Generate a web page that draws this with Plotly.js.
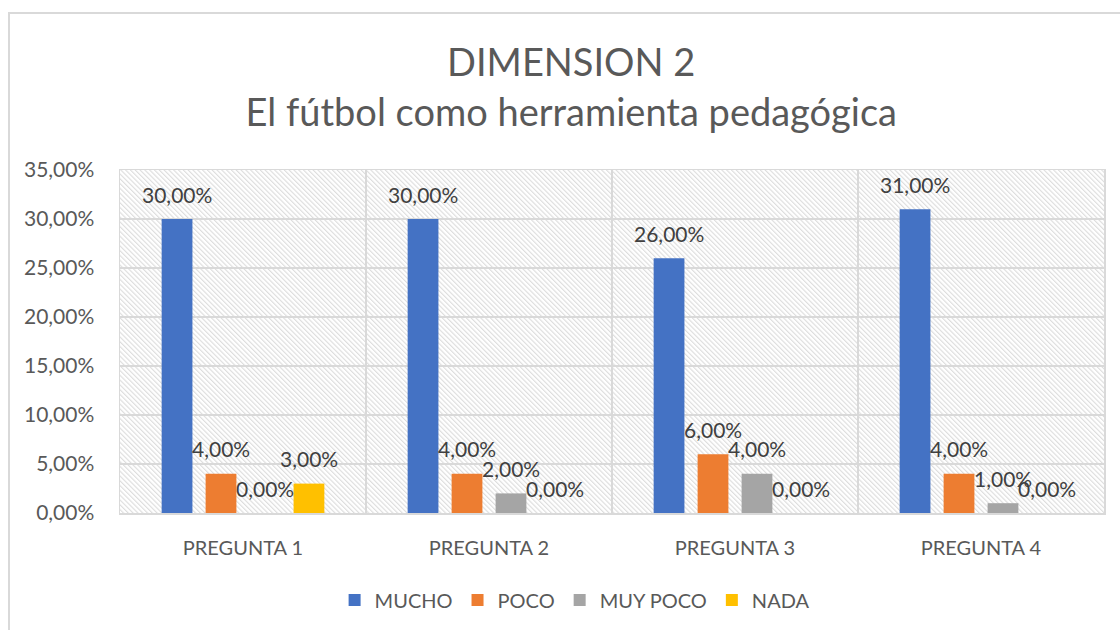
<!DOCTYPE html>
<html>
<head>
<meta charset="utf-8">
<script src="https://cdn.plot.ly/plotly-3.0.1.min.js"></script>
<style>
html,body{margin:0;padding:0;background:#fff;overflow:hidden;}
#wrap{position:relative;width:1120px;height:630px;}
#chart{position:absolute;left:0;top:0;width:1120px;height:630px;}
#frame{position:absolute;left:8px;top:12px;width:1200px;height:700px;border:2px solid #d9d9d9;pointer-events:none;}
</style>
</head>
<body>
<div id="wrap"><div id="chart"></div><div id="frame"></div></div>
<script>
const categories = ["PREGUNTA 1", "PREGUNTA 2", "PREGUNTA 3", "PREGUNTA 4"];
const seriesNames = ["MUCHO", "POCO", "MUY POCO", "NADA"];
const mucho = [30, 30, 26, 31];
const poco = [4, 4, 6, 4];
const muyPoco = [0, 2, 4, 1];
const nada = [3, 0, 0, 0];
const yTicks = [0, 5, 10, 15, 20, 25, 30, 35];

const allSeries = [mucho, poco, muyPoco, nada];
const colors = ["#4472C4", "#ED7D31", "#A5A5A5", "#FFC000"];
const FONT = "Lato, 'Open Sans', sans-serif";

function fmt(v){ return v.toFixed(2).replace('.', ',') + '%'; }

const traces = allSeries.map((vals, i) => ({
  type: 'bar',
  name: seriesNames[i],
  x: categories,
  y: vals,
  marker: {color: colors[i]},
  hoverinfo: 'skip'
}));

const annotations = [];
const step = 44;
allSeries.forEach((vals, i) => {
  vals.forEach((v, j) => {
    annotations.push({
      x: categories[j], y: v, xref: 'x', yref: 'y',
      xshift: (i - 1.5) * step, yshift: 25,
      text: fmt(v), showarrow: false,
      xanchor: 'center', yanchor: 'middle',
      font: {family: FONT, size: 21, color: '#404040'}
    });
  });
});

const hatch = "<svg xmlns='http://www.w3.org/2000/svg' width='984' height='344' preserveAspectRatio='none'>" +
  "<defs><pattern id='p' width='3.4' height='3.4' patternUnits='userSpaceOnUse' patternTransform='rotate(-45)'>" +
  "<rect width='3.4' height='3.4' fill='#ffffff'/>" +
  "<line x1='0.6' y1='0' x2='0.6' y2='3.4' stroke='#d9d9d9' stroke-width='1'/></pattern></defs>" +
  "<rect width='100%' height='100%' fill='url(#p)'/></svg>";

const layout = {
  width: 1120, height: 630,
  margin: {l: 120, r: 16, t: 170, b: 116},
  paper_bgcolor: '#ffffff',
  plot_bgcolor: 'rgba(0,0,0,0)',
  separators: ',.',
  barmode: 'group',
  bargap: 0.285,
  bargroupgap: 0.3,
  font: {family: FONT, color: '#595959'},
  title: {
    text: 'DIMENSION 2<br>El fútbol como herramienta pedagógica',
    font: {family: FONT, size: 38, color: '#595959'},
    x: 0.51, xanchor: 'center',
    y: 0.879, yanchor: 'top', yref: 'container'
  },
  xaxis: {
    type: 'category',
    tickson: 'boundaries',
    showgrid: true, gridcolor: '#d9d9d9', gridwidth: 1.5,
    showline: true, linecolor: '#d9d9d9', linewidth: 1.5, mirror: true,
    ticks: '', ticklabelstandoff: 16,
    tickfont: {family: FONT, size: 20, color: '#595959'}
  },
  yaxis: {
    range: [0, 35],
    tickvals: yTicks,
    ticktext: yTicks.map(fmt),
    showgrid: true, gridcolor: '#d9d9d9', gridwidth: 1.5,
    zeroline: false,
    showline: true, linecolor: '#d9d9d9', linewidth: 1.5, mirror: true,
    ticks: '', ticklabelstandoff: 20,
    tickfont: {family: FONT, size: 21, color: '#595959'}
  },
  legend: {
    orientation: 'h', x: 0.462, xanchor: 'center', y: -0.25, yanchor: 'middle',
    font: {family: FONT, size: 20, color: '#595959'},
    traceorder: 'normal'
  },
  images: [{
    source: 'data:image/svg+xml;charset=utf-8,' + encodeURIComponent(hatch),
    xref: 'paper', yref: 'paper', x: 0, y: 1, sizex: 1, sizey: 1,
    xanchor: 'left', yanchor: 'top', sizing: 'stretch', layer: 'below'
  }],
  annotations: annotations,
  showlegend: true
};

Plotly.newPlot('chart', traces, layout, {displayModeBar: false, staticPlot: true});
</script>
</body>
</html>
